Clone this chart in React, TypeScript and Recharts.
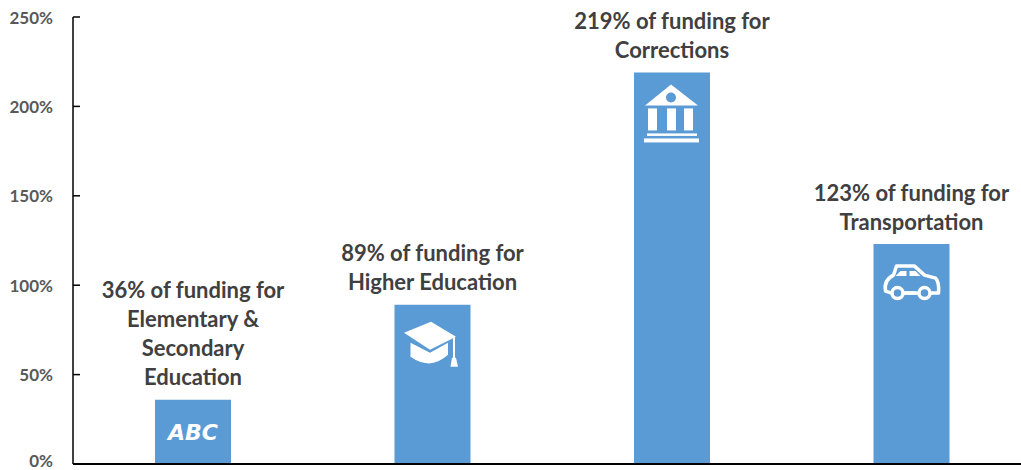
import React from "react";
import { Bar, BarChart, LabelList, XAxis, YAxis } from "recharts";

const categories = ["Elementary & Secondary Education", "Higher Education", "Corrections", "Transportation"];
const values = [36, 89, 219, 123];
const labelLines = [
  ["36% of funding for", "Elementary &", "Secondary", "Education"],
  ["89% of funding for", "Higher Education"],
  ["219% of funding for", "Corrections"],
  ["123% of funding for", "Transportation"],
];
const yTicks = [0, 50, 100, 150, 200, 250];

const chartData = categories.map((name, i) => ({ name, value: values[i] }));

const BLUE = "#5b9bd5";
const FONT = "Lato, 'Open Sans', sans-serif";

const YTick = ({ x, y, payload }: any) => (
  <g>
    {payload.value > 0 && <line x1={x} x2={x + 7} y1={y} y2={y} stroke="#000" strokeWidth={1.5} />}
    <text x={x - 20} y={payload.value === 0 ? y - 4 : y} textAnchor="end" dominantBaseline="central"
      fontFamily={FONT} fontWeight={700} fontSize={17} fill="#595959">
      {payload.value}%
    </text>
  </g>
);

// Small white pictograms drawn on each bar, local origin = top centre of the bar
const icons = [
  () => (
    <text x={0} y={33} textAnchor="middle" dominantBaseline="central" fontFamily="'DejaVu Sans', sans-serif"
      fontWeight={700} fontStyle="italic" fontSize={22} fill="#fff">
      ABC
    </text>
  ),
  () => (
    <g fill="#fff">
      <path d="M-28.5 28 L-1.5 17 L23.5 32 L-2.5 45 Z" />
      <path d="M-22 38 L-22 52 Q-2 66 15.5 50 L15.5 38 L-2.5 48 Z" />
      <rect x={20.5} y={32} width={2} height={21} />
      <path d="M19.5 53 L23.5 53 L25.5 62 L18 62 Z" />
    </g>
  ),
  () => (
    <g fill="#fff">
      <path d="M-1 12 L26 33 L-27 33 Z" />
      <circle cx={-1} cy={25} r={5} fill={BLUE} />
      <rect x={-24} y={36} width={9} height={22} />
      <rect x={-5} y={36} width={9} height={22} />
      <rect x={12} y={36} width={9} height={22} />
      <rect x={-25} y={61} width={50} height={2.5} />
      <rect x={-28} y={66} width={55} height={4} />
    </g>
  ),
  () => (
    <g>
      <path d="M-20 49 L-26 47 Q-28 36 -18 31 L-15 22 L3 22 L13 31 L24 34 Q28 38 27 49 L22 49 M3 49 L-7 49"
        fill="none" stroke="#fff" strokeWidth={3.5} strokeLinejoin="round" strokeLinecap="round" />
      <path d="M-7 49 L22 49" stroke="#fff" strokeWidth={3.5} />
      <path d="M-16 32 L-11 27 L-5 27 L-5 32 Z M-2 27 L4 27 L9 32 L-2 32 Z" fill="#fff" />
      <circle cx={-14} cy={49} r={5.5} fill={BLUE} stroke="#fff" strokeWidth={3.5} />
      <circle cx={13} cy={49} r={5.5} fill={BLUE} stroke="#fff" strokeWidth={3.5} />
    </g>
  ),
];

const BarLabel = ({ x, y, width, index }: any) => {
  const lines = labelLines[index];
  const cx = x + width / 2;
  const Icon = icons[index];
  return (
    <g>
      {lines.map((line, i) => (
        <text key={line} x={cx} y={y - 23 - (lines.length - 1 - i) * 29} textAnchor="middle" dominantBaseline="central"
          fontFamily={FONT} fontWeight={700} fontSize={22} fill="#404040">
          {line}
        </text>
      ))}
      <g transform={`translate(${cx} ${y})`}>
        <Icon />
      </g>
    </g>
  );
};

export default function App() {
  return (
    <div style={{ position: "absolute", left: 0, top: 0, width: 1021, height: 470, overflow: "hidden", background: "#fff" }}>
      <BarChart width={1031} height={470} data={chartData} margin={{ top: 17, right: 0, bottom: 1, left: 0 }} barSize={76}>
        <XAxis dataKey="name" tick={false} tickLine={false} height={5} axisLine={{ stroke: "#000", strokeWidth: 2 }} />
        <YAxis width={73} domain={[0, 250]} ticks={yTicks} interval={0} tickLine={false} tickSize={0} tickMargin={0}
          axisLine={{ stroke: "#000", strokeWidth: 1.5 }} tick={<YTick />} />
        <Bar dataKey="value" fill={BLUE} isAnimationActive={false}>
          <LabelList dataKey="value" content={<BarLabel />} />
        </Bar>
      </BarChart>
    </div>
  );
}
